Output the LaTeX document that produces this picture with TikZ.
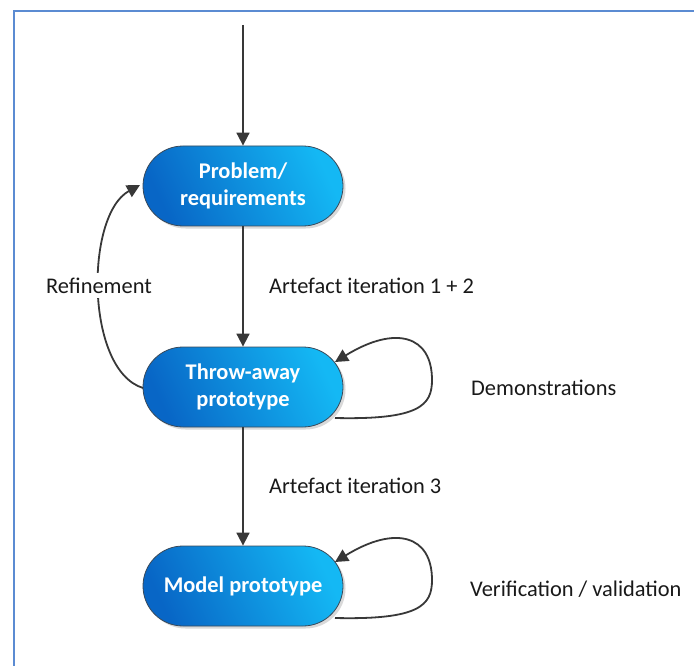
\documentclass[tikz,border=0pt]{standalone}
\usepackage{fontspec}
\setmainfont{Carlito}
\usetikzlibrary{arrows.meta,shadows}

\definecolor{framecol}{HTML}{5B8BD2}
\definecolor{linecol}{HTML}{383838}
\definecolor{boxlight}{HTML}{14B8F4}
\definecolor{boxdark}{HTML}{0866C6}
\definecolor{boxedge}{HTML}{3A4A5A}

\tikzset{
  stage/.style={
    rounded corners=40pt, minimum width=200pt, minimum height=80pt,
    draw=boxedge, line width=0.8pt,
    top color=boxlight, bottom color=boxdark, shading angle=-65,
    drop shadow={shadow xshift=2.5pt, shadow yshift=-2.5pt, opacity=0.25, fill=black!60},
    text=white, font=\fontsize{22.4}{27}\selectfont\bfseries,
    align=center, inner sep=0pt},
  flow/.style={draw=linecol, line width=1.8pt,
    -{Triangle[length=13pt,width=13pt]}},
  note/.style={font=\fontsize{22.4}{27}\selectfont, text=black!90,
    inner sep=0pt}
}

\begin{document}
\begin{tikzpicture}[x=1pt,y=-1pt]
  \useasboundingbox (0,0) rectangle (694,666);
  % outer frame, running off the right and bottom edges
  \begin{scope}
    \clip (0,0) rectangle (694,666);
    \draw[framecol, line width=1.8pt] (14,700) -- (14,11) -- (720,11);
  \end{scope}

  % process stages
  \node[stage] (prob)  at (243,186) {Problem/\\requirements};
  \node[stage] (throw) at (243,387) {Throw-away\\prototype};
  \node[stage] (model) at (243,586) {Model prototype};

  \coordinate (start) at (243,25);

  % main flow
  \draw[flow] (start) -- (prob.north);
  \draw[flow] (prob.south) -- (throw.north);
  \draw[flow] (throw.south) -- (model.north);

  % refinement loop back to the requirements
  \coordinate (rfrom) at (143,388);
  \coordinate (rto)   at (140,185);
  \draw[flow] (rfrom) .. controls (85,370) and (85,215) .. (rto);
  \node[note, fill=white, inner xsep=1pt, inner ysep=5pt, anchor=base]
    (refine) at (99,293) {Refinement};

  % self loops on the prototypes
  \coordinate (t1) at (335,418);
  \coordinate (t2) at (432,380);
  \coordinate (t3) at (335,362);
  \draw[flow] (t1) .. controls (420,420) and (432,405) .. (t2)
              .. controls (432,335) and (395,325) .. (t3);

  \coordinate (m1) at (335,618);
  \coordinate (m2) at (432,580);
  \coordinate (m3) at (335,562);
  \draw[flow] (m1) .. controls (420,620) and (432,605) .. (m2)
              .. controls (432,535) and (395,525) .. (m3);

  % labels
  \node[note, anchor=base west] (it12) at (269,293) {Artefact iteration 1 + 2};
  \node[note, anchor=base west] (it3)  at (269,493) {Artefact iteration 3};
  \node[note, anchor=base west] (demo) at (471,395) {Demonstrations};
  \node[note, anchor=base west] (verif) at (470,596) {Verification / validation};
\end{tikzpicture}
\end{document}
